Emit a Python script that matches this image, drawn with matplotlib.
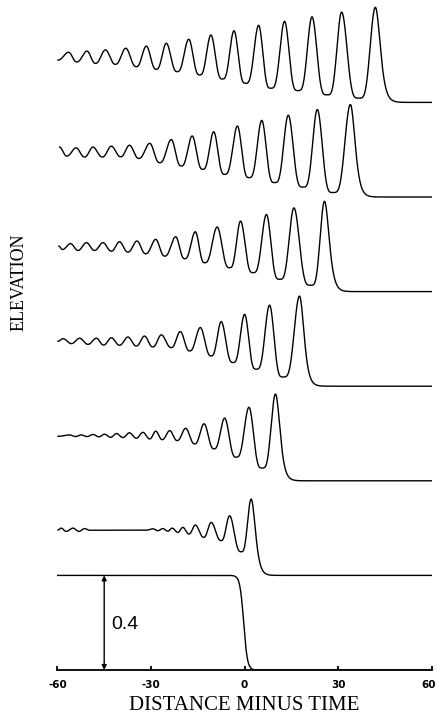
import numpy as np
import matplotlib
matplotlib.use("Agg")
import matplotlib.pyplot as plt
from matplotlib.transforms import ScaledTranslation

# ---------------- data ----------------
# Each undular-bore profile: alternating extrema (x, elevation above its own
# undisturbed level), from the left end to the leading crest.
t1_x = [-59.8, -56.4, -53.8, -50.5, -47.8, -44.6, -41.4, -38.1, -34.7, -31.5,
        -28.3, -25.1, -21.6, -17.9, -14.4, -10.8, -7.1, -3.4, 0.3, 4.5,
        8.4, 12.8, 17.1, 21.6, 26.4, 31.1, 36.6, 41.9]
t1_y = [0.179, 0.212, 0.171, 0.217, 0.165, 0.222, 0.161, 0.229, 0.151, 0.238,
        0.140, 0.250, 0.130, 0.267, 0.116, 0.285, 0.099, 0.303, 0.081, 0.326,
        0.060, 0.343, 0.050, 0.362, 0.032, 0.382, 0.018, 0.402]

t2_x = [-59.3, -57.0, -54.0, -51.3, -48.6, -45.6, -42.7, -39.7, -36.9, -33.9,
        -30.4, -27.2, -23.5, -20.3, -16.8, -13.4, -9.9, -6.4, -2.3, 1.4,
        5.5, 9.6, 14.0, 18.7, 23.3, 28.3, 33.9]
t2_y = [0.211, 0.173, 0.208, 0.169, 0.211, 0.169, 0.215, 0.170, 0.219, 0.163,
        0.227, 0.145, 0.243, 0.131, 0.258, 0.117, 0.276, 0.096, 0.300, 0.082,
        0.324, 0.061, 0.346, 0.042, 0.370, 0.019, 0.391]

t3_x = [-59.5, -58.4, -55.8, -53.4, -50.7, -48.1, -45.4, -42.7, -40.1, -37.4,
        -34.5, -31.7, -28.5, -25.6, -22.1, -19.2, -15.8, -12.8, -8.8, -4.8,
        -1.3, 2.7, 7.0, 11.2, 15.8, 21.2, 25.6]
t3_y = [0.192, 0.178, 0.203, 0.174, 0.207, 0.174, 0.207, 0.171, 0.211, 0.167,
        0.214, 0.160, 0.221, 0.150, 0.232, 0.139, 0.253, 0.122, 0.273, 0.101,
        0.298, 0.080, 0.326, 0.052, 0.354, 0.027, 0.382]

t4_x = [-59.8, -58.2, -55.5, -52.9, -50.2, -47.5, -45.2, -42.7, -40.1, -37.4,
        -34.7, -32.1, -29.4, -26.7, -23.5, -20.6, -17.6, -14.2, -10.7, -7.5,
        -3.7, 0.0, 3.7, 8.0, 12.3, 17.6]
t4_y = [0.190, 0.201, 0.180, 0.203, 0.177, 0.203, 0.174, 0.205, 0.173, 0.208,
        0.170, 0.212, 0.166, 0.217, 0.163, 0.231, 0.149, 0.248, 0.128, 0.273,
        0.100, 0.304, 0.072, 0.343, 0.039, 0.381]

t5_x = [-59.8, -56.1, -54.2, -52.4, -50.5, -48.6, -46.7, -44.9, -42.9, -41.1,
        -39.0, -36.9, -34.7, -32.6, -30.4, -28.5, -26.4, -24.0, -21.6, -18.9,
        -16.0, -13.0, -9.8, -6.4, -2.7, 1.4, 5.6, 9.9]
t5_y = [0.188, 0.194, 0.187, 0.194, 0.187, 0.196, 0.186, 0.197, 0.184, 0.200,
        0.183, 0.203, 0.180, 0.205, 0.177, 0.210, 0.174, 0.212, 0.170, 0.222,
        0.156, 0.241, 0.135, 0.265, 0.100, 0.311, 0.054, 0.367]

t6_x = [-59.8, -58.8, -57.2, -55.0, -53.1, -51.3, -49.7, -31.5, -29.4, -27.8,
        -26.2, -24.6, -23.2, -21.4, -19.8, -17.8, -15.8, -13.1, -10.7, -7.5,
        -4.8, -1.1, 2.1]
t6_y = [0.192, 0.200, 0.186, 0.200, 0.186, 0.198, 0.191, 0.191, 0.197, 0.189,
        0.198, 0.187, 0.200, 0.182, 0.203, 0.175, 0.213, 0.161, 0.224, 0.147,
        0.252, 0.100, 0.323]

profiles_x = [t1_x, t2_x, t3_x, t4_x, t5_x, t6_x]
profiles_y = [t1_y, t2_y, t3_y, t4_y, t5_y, t6_y]
front_width = [2.1, 2.0, 2.0, 1.9, 1.9, 1.8]       # decay of the leading crest
offsets = [2.4, 2.0, 1.6, 1.2, 0.8, 0.4]           # vertical shift of each profile

# initial step (bottom profile)
step_height = 0.4
step_center = -0.3
step_width = 1.2

arrow_x = -45.0
label_04 = "0.4"

xticks = [-60, -30, 0, 30, 60]
xtick_labels = ["-60", "-30", "0", "30", "60"]
xlabel = "DISTANCE MINUS TIME"
ylabel = "ELEVATION"

# ---------------- drawing ----------------
def wave_path(xe, ye, w):
    xs, ys = [], []
    for i in range(len(xe) - 1):
        x0, y0, x1, y1 = xe[i], ye[i], xe[i + 1], ye[i + 1]
        s = np.linspace(0, 1, 50)
        p = 1 + 1.3 * abs(y1 - y0) / 0.4
        if y1 >= y0:
            f = ((1 - np.cos(np.pi * s)) / 2) ** p
            y = y0 + (y1 - y0) * f
        else:
            f = ((1 - np.cos(np.pi * (1 - s))) / 2) ** p
            y = y1 + (y0 - y1) * f
        xs.append(x0 + (x1 - x0) * s)
        ys.append(y)
    xf = np.linspace(xe[-1], 60, 300)
    yf = ye[-1] / np.cosh((xf - xe[-1]) / w) ** 2
    xs.append(xf)
    ys.append(yf)
    return np.concatenate(xs), np.concatenate(ys)


fig = plt.figure(figsize=(4.37, 7.18), dpi=100)
ax = fig.add_axes([57.4 / 437, 48 / 718, 374.4 / 437, 670 / 718])

for xe, ye, w, off in zip(profiles_x, profiles_y, front_width, offsets):
    x, y = wave_path(xe, ye, w)
    ax.plot(x, np.asarray(y) + off, color="black", lw=1.0)

xs = np.linspace(-60, 60, 1200)
ys = step_height / 2 * (1 - np.tanh((xs - step_center) / step_width))
ax.plot(xs, ys, color="black", lw=1.0)

ax.annotate("", xy=(arrow_x, 0.0), xytext=(arrow_x, step_height),
            arrowprops=dict(arrowstyle="<|-|>", lw=1.0, color="black",
                            shrinkA=0, shrinkB=0, mutation_scale=7))
ax.text(arrow_x + 2.3, step_height / 2 - 0.006, label_04, ha="left", va="center",
        fontsize=14, family="Liberation Sans")

ax.set_xlim(-60, 60)
ax.set_ylim(0, 670 / 236.5)
for sp in ["left", "right", "top"]:
    ax.spines[sp].set_visible(False)
ax.spines["bottom"].set_linewidth(1.3)
ax.set_yticks([])
ax.set_xticks(xticks)
ax.set_xticklabels(xtick_labels, fontsize=7.5, fontweight="bold",
                   family="DejaVu Sans")
ax.tick_params(axis="x", direction="in", length=3, width=1.3, pad=7)
# keep the last label inside the canvas
last = ax.get_xticklabels()[-1]
last.set_transform(last.get_transform() + ScaledTranslation(-3 / 100, 0, fig.dpi_scale_trans))
ax.patch.set_alpha(0)

fig.text(244.5 / 437, 1 - 705.5 / 718, xlabel, ha="center", va="center",
         fontsize=15, family="Liberation Serif")
fig.text(19 / 437, 1 - 282 / 718, ylabel, ha="center", va="center",
         rotation=90, fontsize=13, family="Liberation Serif")

fig.savefig("out.png", dpi=100, facecolor="white")
